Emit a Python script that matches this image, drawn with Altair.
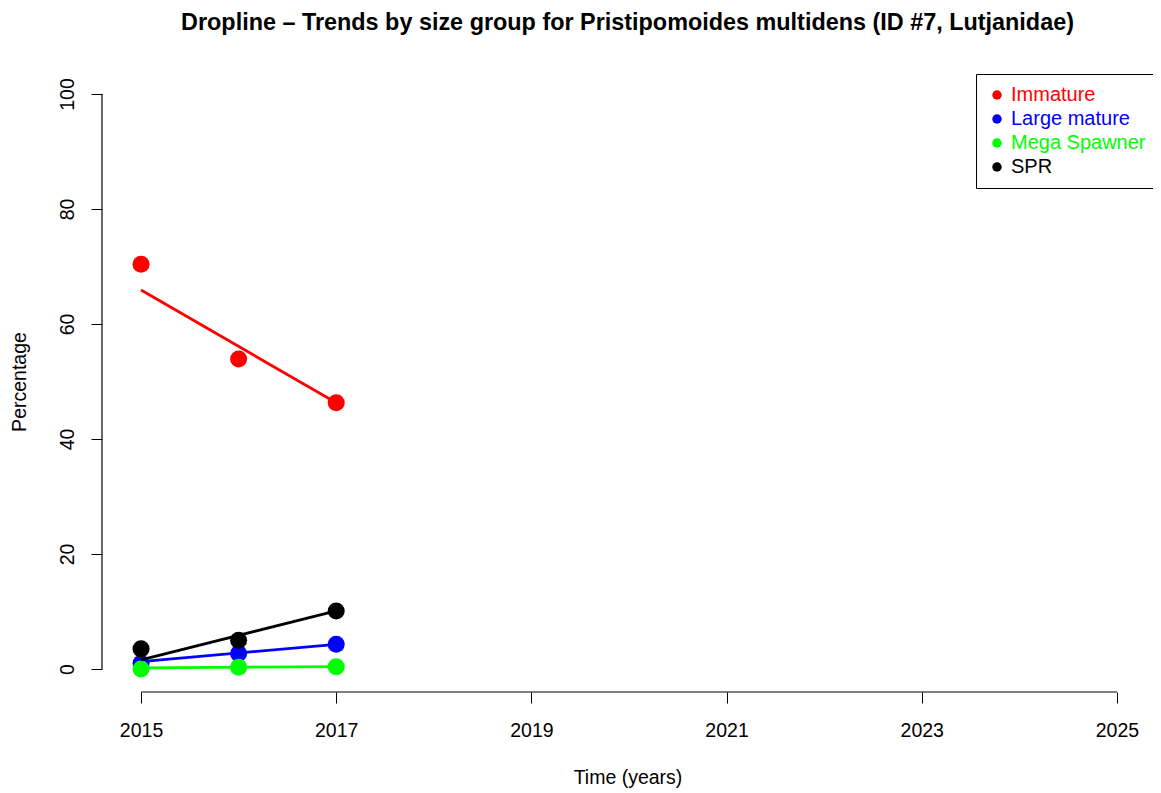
import altair as alt
import pandas as pd

groups = ["Immature", "Large mature", "Mega Spawner", "SPR"]
colors = ["#FF0000", "#0000FF", "#00FF00", "#000000"]
years = [2015, 2016, 2017]
immature = [70.4, 53.9, 46.3]
large_mature = [1.0, 2.7, 4.3]
mega_spawner = [0.0, 0.3, 0.4]
spr = [3.5, 5.0, 10.1]

trend_years = [2015, 2017]
trend_immature = [65.9, 46.3]
trend_large_mature = [1.3, 4.3]
trend_mega_spawner = [0.2, 0.4]
trend_spr = [1.6, 10.1]

x_ticks = [2015, 2017, 2019, 2021, 2023, 2025]
y_ticks = [0, 20, 40, 60, 80, 100]

series = [immature, large_mature, mega_spawner, spr]
trends = [trend_immature, trend_large_mature, trend_mega_spawner, trend_spr]

pts = pd.DataFrame([
    {"year": y, "value": v, "group": g}
    for g, vals in zip(groups, series) for y, v in zip(years, vals)
])
trd = pd.DataFrame([
    {"year": y, "value": v, "group": g}
    for g, vals in zip(groups, trends) for y, v in zip(trend_years, vals)
])

FONT = "Liberation Sans"
BASE = 19.5
xscale = alt.Scale(domain=[2014.6, 2025.37], nice=False, zero=False)
yscale = alt.Scale(domain=[-4, 104], nice=False, zero=False)
cscale = alt.Scale(domain=groups, range=colors)

xaxis = alt.Axis(values=x_ticks, format="d", domain=False, grid=False, tickSize=11,
                 tickColor="black", labelColor="black", labelFontSize=BASE, labelFont=FONT,
                 labelPadding=18, title="Time (years)", titleFont=FONT, titleFontSize=BASE,
                 titleFontWeight="normal", titleColor="black", titlePadding=29)
yaxis = alt.Axis(values=y_ticks, domain=False, grid=False, tickSize=11,
                 tickColor="black", labelColor="black", labelFontSize=BASE, labelFont=FONT,
                 labelAngle=-90, labelAlign="center", labelBaseline="alphabetic",
                 labelPadding=18, title="Percentage", titleFont=FONT, titleFontSize=BASE,
                 titleFontWeight="normal", titleColor="black", titlePadding=28)

legend = alt.Legend(title=None, orient="none", legendX=874, legendY=3,
                    strokeColor="black", padding=11, fillColor="white",
                    symbolType="circle", symbolSize=90, symbolStrokeWidth=0,
                    labelFont=FONT, labelFontSize=20, labelOffset=4, rowPadding=4,
                    labelColor=alt.ExprRef("scale('color', datum.value)"))

X = alt.X("year:Q", scale=xscale, axis=xaxis)
Y = alt.Y("value:Q", scale=yscale, axis=yaxis)

layers = []
for i, g in enumerate(groups):
    p = alt.Chart(pts).transform_filter(alt.datum.group == g).mark_circle(size=290, opacity=1).encode(
        x=X, y=Y,
        color=alt.Color("group:N", scale=cscale, legend=legend),
    )
    l = alt.Chart(trd).transform_filter(alt.datum.group == g).mark_line(strokeWidth=2.8).encode(
        x=X, y=Y,
        color=alt.Color("group:N", scale=cscale, legend=legend),
    )
    layers += [p, l]

xline = alt.Chart(pd.DataFrame({"year": [x_ticks[0]], "x2": [x_ticks[-1]], "value": [-4]})).mark_rule(
    color="black", strokeWidth=1.2).encode(x=X, x2="x2:Q", y=Y)
yline = alt.Chart(pd.DataFrame({"year": [2014.6], "value": [y_ticks[0]], "y2": [y_ticks[-1]]})).mark_rule(
    color="black", strokeWidth=1.2).encode(x=X, y=Y, y2="y2:Q")

chart = alt.layer(*layers, xline, yline).properties(
    width=1051, height=621,
    title=alt.TitleParams("Dropline \u2013 Trends by size group for Pristipomoides multidens (ID #7, Lutjanidae)",
                          font=FONT, fontSize=23.4, fontWeight="bold", color="black",
                          anchor="middle", offset=36),
    autosize=alt.AutoSizeParams(type="none"),
    padding={"left": 94, "top": 63, "right": 0, "bottom": 100},
    background="white",
).configure_view(stroke=None)

chart.save("out.html", embed_options={"renderer": "svg", "actions": False})
